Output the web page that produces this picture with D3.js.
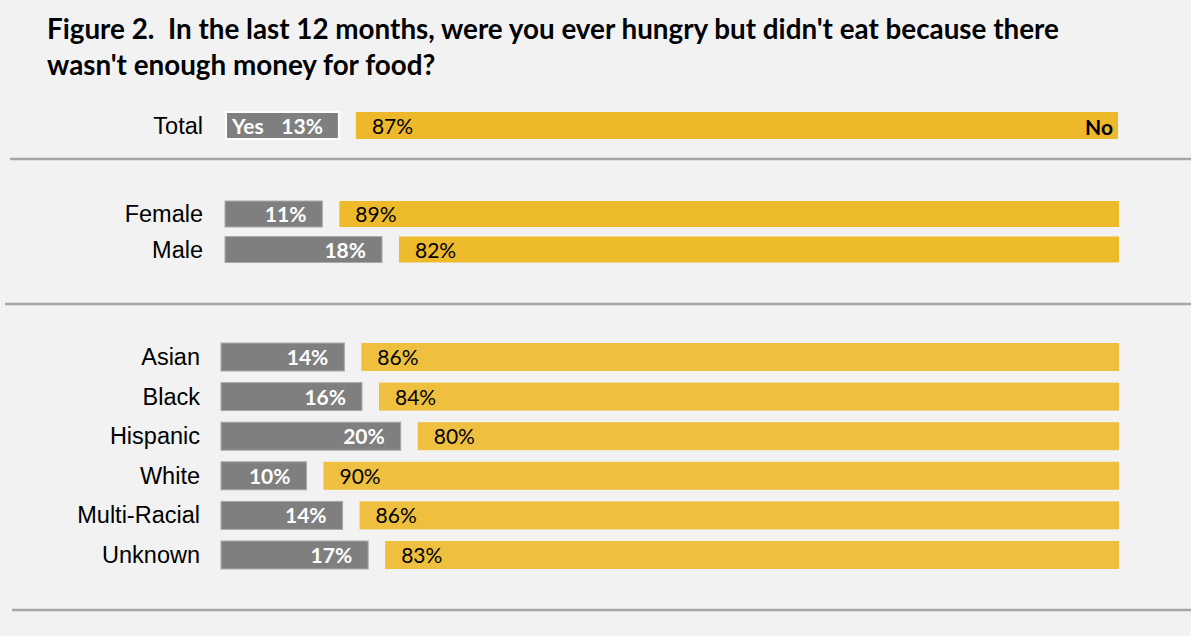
<!DOCTYPE html>
<html><head><meta charset="utf-8">
<script src="https://cdn.jsdelivr.net/npm/d3@7"></script>
<style>
html,body{margin:0;padding:0;background:#f2f2f2;}
svg{display:block;}
</style></head>
<body><svg id="chart" width="1191" height="636"></svg>
<script>
// ---- data (bar lengths; labels shown rounded) ----
const titleLines = ["Figure 2.  In the last 12 months, were you ever hungry but didn't eat because there",
                    "wasn't enough money for food?"];
const totalCats = ["Total"];
const totalYes = [12.9];
const totalNo = [87.1];
const genderCats = ["Female", "Male"];
const genderYes = [11.1, 17.9];
const genderNo = [88.9, 82.1];
const raceCats = ["Asian", "Black", "Hispanic", "White", "Multi-Racial", "Unknown"];
const raceYes = [14.0, 16.0, 20.4, 9.7, 13.8, 16.7];
const raceNo = [86.0, 84.0, 79.6, 90.3, 86.2, 83.3];
const yesLabel = "Yes";
const noLabel = "No";

// ---- layout ----
const svg = d3.select("#chart");
svg.append("rect").attr("width",1191).attr("height",636).attr("fill","#f2f2f2");

svg.append("g").selectAll("text").data(titleLines).join("text")
  .attr("x",47).attr("y",(d,i)=>39+i*36)
  .attr("font-family","Lato, 'Open Sans', sans-serif").attr("font-weight","bold")
  .attr("font-size",27.8).attr("fill","#000").style("white-space","pre")
  .text(d=>d);

const gap = 17;
const fmt = v => Math.round(v) + "%";
const panels = [
  {cats: totalCats, yes: totalYes, no: totalNo, x0: 226, w: 875, y: [125.5,125.5], bh: 27, labelX: 203,
   yellow: "#edb92b", greyStroke: "#ffffff", greyStrokeW: 2, sepY: 159, sepX: 10, first: true},
  {cats: genderCats, yes: genderYes, no: genderNo, x0: 225, w: 877, y: [214,249.5], bh: 26, labelX: 203,
   yellow: "#edba2c", greyStroke: "#a9a9a9", greyStrokeW: 1, sepY: 304, sepX: 5},
  {cats: raceCats, yes: raceYes, no: raceNo, x0: 221, w: 881, y: [357,555], bh: 28, labelX: 200,
   yellow: "#efc040", greyStroke: "#a9a9a9", greyStrokeW: 1, sepY: 610, sepX: 12}
];

panels.forEach(p => {
  const x = d3.scaleLinear().domain([0,100]).range([0, p.w]);
  const y = d3.scalePoint().domain(p.cats).range(p.y);
  const rows = p.cats.map((c,i)=>({cat:c, yes:p.yes[i], no:p.no[i]}));
  const g = svg.append("g");

  g.selectAll("rect.yes").data(rows).join("rect").attr("class","yes")
    .attr("x", p.x0).attr("y", d=>y(d.cat)-p.bh/2)
    .attr("width", d=>x(d.yes)).attr("height", p.bh)
    .attr("fill","#7f7f7f").attr("stroke",p.greyStroke).attr("stroke-width",p.greyStrokeW);
  g.selectAll("rect.no").data(rows).join("rect").attr("class","no")
    .attr("x", d=>p.x0 + x(d.yes) + gap).attr("y", d=>y(d.cat)-p.bh/2)
    .attr("width", d=>x(d.no)).attr("height", p.bh)
    .attr("fill", p.yellow);

  g.selectAll("text.cat").data(rows).join("text").attr("class","cat")
    .attr("x", p.labelX).attr("y", d=>y(d.cat)+8)
    .attr("text-anchor","end").attr("font-family","'Liberation Sans', Arial, sans-serif")
    .attr("font-size",23.5).attr("fill","#000").text(d=>d.cat);

  g.selectAll("text.yv").data(rows).join("text").attr("class","yv")
    .attr("x", d=>p.x0 + x(d.yes) - 16).attr("y", d=>y(d.cat)+8)
    .attr("text-anchor","end").attr("font-family","Lato, sans-serif").attr("font-weight","bold")
    .attr("font-size",21).attr("fill","#fff").text(d=>fmt(d.yes));

  g.selectAll("text.nv").data(rows).join("text").attr("class","nv")
    .attr("x", d=>p.x0 + x(d.yes) + gap + 16).attr("y", d=>y(d.cat)+8)
    .attr("font-family","Lato, sans-serif")
    .attr("font-size",21).attr("fill","#000").text(d=>fmt(d.no));

  if (p.first) {
    g.append("text").attr("x", p.x0+6).attr("y", y(p.cats[0])+8)
      .attr("font-family","Lato, sans-serif").attr("font-weight","bold")
      .attr("font-size",21).attr("fill","#fff").text(yesLabel);
    g.append("text").attr("x", p.x0 + x(100) + gap - 5).attr("y", y(p.cats[0])+9)
      .attr("text-anchor","end").attr("font-family","Lato, sans-serif").attr("font-weight","bold")
      .attr("font-size",21).attr("fill","#000").text(noLabel);
  }

  svg.append("line").attr("x1", p.sepX).attr("x2",1191).attr("y1",p.sepY).attr("y2",p.sepY)
    .attr("stroke","#a6a6a6").attr("stroke-width",2.5);
});
</script></body></html>
